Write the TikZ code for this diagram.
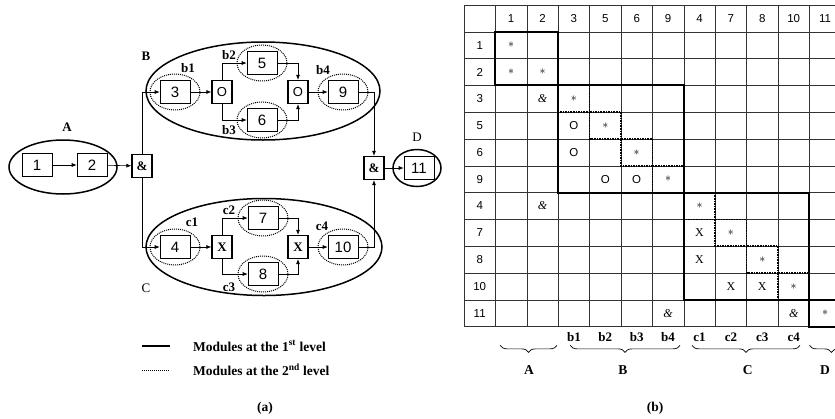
\documentclass[tikz,border=0pt]{standalone}
\usepackage{fontspec}
\setmainfont{Liberation Serif}
\setsansfont{Liberation Sans}
\usetikzlibrary{arrows.meta,shapes.geometric,decorations.pathreplacing,positioning}
\tikzset{
  modbox/.style={
    draw,
    rectangle,
    line width=0.6pt,
    minimum width=30pt,
    minimum height=23pt,
    inner sep=0pt,
    font=\sffamily\fontsize{15}{15}\selectfont
  },
  gate/.style={
    draw,
    rectangle,
    line width=1.4pt,
    minimum width=20pt,
    minimum height=23pt,
    inner sep=0pt,
    font=\bfseries\fontsize{13}{13}\selectfont
  },
  submod/.style={
    draw,
    ellipse,
    densely dotted,
    line width=1pt,
    minimum width=50pt,
    minimum height=36pt
  },
  topmod/.style={
    draw,
    ellipse,
    line width=1.5pt
  },
  lbl/.style={
    font=\bfseries\fontsize{13}{13}\selectfont,
    inner sep=0pt
  },
  capt/.style={
    font=\bfseries\fontsize{13.5}{14}\selectfont,
    inner sep=0pt
  },
  conn/.style={
    -{Latex[length=5pt,width=4pt]},
    line width=0.6pt
  },
  cell/.style={
    font=\sffamily\fontsize{11.5}{12}\selectfont,
    inner sep=0pt
  },
  gridline/.style={line width=0.6pt, black!80},
  block/.style={line width=2pt},
  subblock/.style={line width=1.6pt, densely dotted},
  grpbrace/.style={decorate, decoration={brace, mirror, amplitude=7pt}, line width=0.7pt}
}

\begin{document}
\begin{tikzpicture}[x=1pt, y=-1pt]
  \useasboundingbox (0,0) rectangle (835,418);

  % Modules du 1er niveau
  \node[topmod, minimum width=108pt, minimum height=54pt] (modA) at (63,167) {};
  \node[topmod, minimum width=234pt, minimum height=98pt] (modB) at (263,91) {};
  \node[topmod, minimum width=236pt, minimum height=97pt] (modC) at (264,247) {};
  \node[topmod, minimum width=48pt, minimum height=37pt] (modD) at (417,168) {};
  \node[lbl] (labA) at (67,127) {A};
  \node[lbl] (labB) at (146,56) {B};
  \node[lbl, font=\fontsize{13}{13}\selectfont] (labC) at (146,288) {C};
  \node[lbl, font=\fontsize{13}{13}\selectfont] (labD) at (417,137) {D};

  % Composants
  \node[modbox] (m1) at (37,165) {1};
  \node[modbox] (m2) at (92,165) {2};
  \node[gate] (and1) at (142,166) {\&};
  \node[modbox] (m3) at (175,92) {3};
  \node[gate, font=\sffamily\fontsize{13}{13}\selectfont] (or1) at (222,92) {O};
  \node[modbox] (m5) at (262,63) {5};
  \node[modbox] (m6) at (262,120) {6};
  \node[gate, font=\sffamily\fontsize{13}{13}\selectfont] (or2) at (298,92) {O};
  \node[modbox] (m9) at (343,92) {9};
  \node[modbox] (m4) at (175,247) {4};
  \node[gate] (xor1) at (222,247) {X};
  \node[modbox] (m7) at (263,218) {7};
  \node[modbox] (m8) at (263,274) {8};
  \node[gate] (xor2) at (298,247) {X};
  \node[modbox] (m10) at (343,247) {10};
  \node[gate] (and2) at (374,168) {\&};
  \node[modbox] (m11) at (419,168) {11};

  % Modules du 2e niveau
  \node[submod] (sb1) at (m3) {};
  \node[submod] (sb2) at (m5) {};
  \node[submod] (sb3) at (m6) {};
  \node[submod] (sb4) at (m9) {};
  \node[submod] (sc1) at (m4) {};
  \node[submod] (sc2) at (m7) {};
  \node[submod] (sc3) at (m8) {};
  \node[submod] (sc4) at (m10) {};
  \node[lbl] (lb1) at (188,68) {b1};
  \node[lbl] (lb2) at (229,55) {b2};
  \node[lbl] (lb3) at (229,130) {b3};
  \node[lbl] (lb4) at (323,70) {b4};
  \node[lbl] (lc1) at (192,222) {c1};
  \node[lbl] (lc2) at (229,210) {c2};
  \node[lbl] (lc3) at (229,287) {c3};
  \node[lbl] (lc4) at (322,226) {c4};

  % Liaisons
  \draw[conn] (m1) -- (m2);
  \draw[conn] (m2) -- (and1);
  \draw[conn] (and1.north) |- (m3.west);
  \draw[conn] (and1.south) |- (m4.west);
  \draw[conn] (m3) -- (or1);
  \draw[conn] (or1.north) |- (m5.west);
  \draw[conn] (or1.south) |- (m6.west);
  \draw[conn] (m5.east) -| (or2.north);
  \draw[conn] (m6.east) -| (or2.south);
  \draw[conn] (or2) -- (m9);
  \draw[conn] (m4) -- (xor1);
  \draw[conn] (xor1.north) |- (m7.west);
  \draw[conn] (xor1.south) |- (m8.west);
  \draw[conn] (m7.east) -| (xor2.north);
  \draw[conn] (m8.east) -| (xor2.south);
  \draw[conn] (xor2) -- (m10);
  \draw[conn] (m9.east) -| (and2.north);
  \draw[conn] (m10.east) -| (and2.south);
  \draw[conn] (and2) -- (m11);

  % Legende
  \draw[line width=1.5pt] (142,346) -- (170,346);
  \draw[line width=1pt, densely dotted] (142,370) -- (170,370);
  \node[capt, anchor=west] (leg1) at (193,346) {Modules at the 1\textsuperscript{st} level};
  \node[capt, anchor=west] (leg2) at (193,370) {Modules at the 2\textsuperscript{nd} level};
  \node[capt] (capa) at (265,408) {(a)};
  \node[capt] (capb) at (655,408) {(b)};

  % Matrice DSM
  \begin{scope}[shift={(464pt,-5pt)}, x=31.4pt, y=-26.8pt]
    \foreach \i in {0,...,12}
      \draw[gridline] (\i,0) -- (\i,12);
    \foreach \j in {0,...,12}
      \draw[gridline] (0,\j) -- (12,\j);
    \foreach \lab [count=\k] in {1,2,3,5,6,9,4,7,8,10,11} {
      \node[cell] (col\k) at (\k+0.5,0.5) {\lab};
      \node[cell] (row\k) at (0.5,\k+0.5) {\lab};
    }
    \foreach \c/\r in {1/1,1/2,2/2,3/3,4/4,5/5,6/6,7/7,8/8,9/9,10/10,11/11}
      \node[cell] (s\c-\r) at (\c+0.5,\r+0.5) {$\ast$};
    \foreach \c/\r in {3/4,3/5,4/6,5/6}
      \node[cell] (o\c-\r) at (\c+0.5,\r+0.5) {O};
    \foreach \c/\r in {7/8,7/9,8/10,9/10}
      \node[cell, font=\fontsize{12}{12}\selectfont] (x\c-\r) at (\c+0.5,\r+0.5) {X};
    \foreach \c/\r in {2/3,2/7,6/11,10/11}
      \node[cell, font=\itshape\fontsize{12}{12}\selectfont] (a\c-\r) at (\c+0.5,\r+0.5) {\&};
    % blocs
    \draw[block] (1,1) rectangle (3,3);
    \draw[block] (3,3) rectangle (7,7);
    \draw[block] (7,7) rectangle (11,11);
    \draw[block] (11,11) rectangle (12,12);
    \foreach \d in {3,...,10}
      \draw[subblock] (\d,\d) rectangle (\d+1,\d+1);
    % etiquettes du bas
    \foreach \lab [count=\k from 3] in {b1,b2,b3,b4,c1,c2,c3,c4}
      \node[lbl] (bot\k) at (\k+0.5,12.4) {\lab};
    \draw[grpbrace] (1.15,12.7) -- (2.96,12.7);
    \draw[grpbrace] (3.38,12.7) -- (6.88,12.7);
    \draw[grpbrace] (7.26,12.7) -- (10.7,12.7);
    \draw[grpbrace] (11.0,12.7) -- (12.4,12.7);
    \node[capt] (grpA) at (2.07,13.62) {A};
    \node[capt] (grpB) at (5.06,13.62) {B};
    \node[capt] (grpC) at (9.04,13.62) {C};
    \node[capt] (grpD) at (11.5,13.62) {D};
  \end{scope}
\end{tikzpicture}
\end{document}
